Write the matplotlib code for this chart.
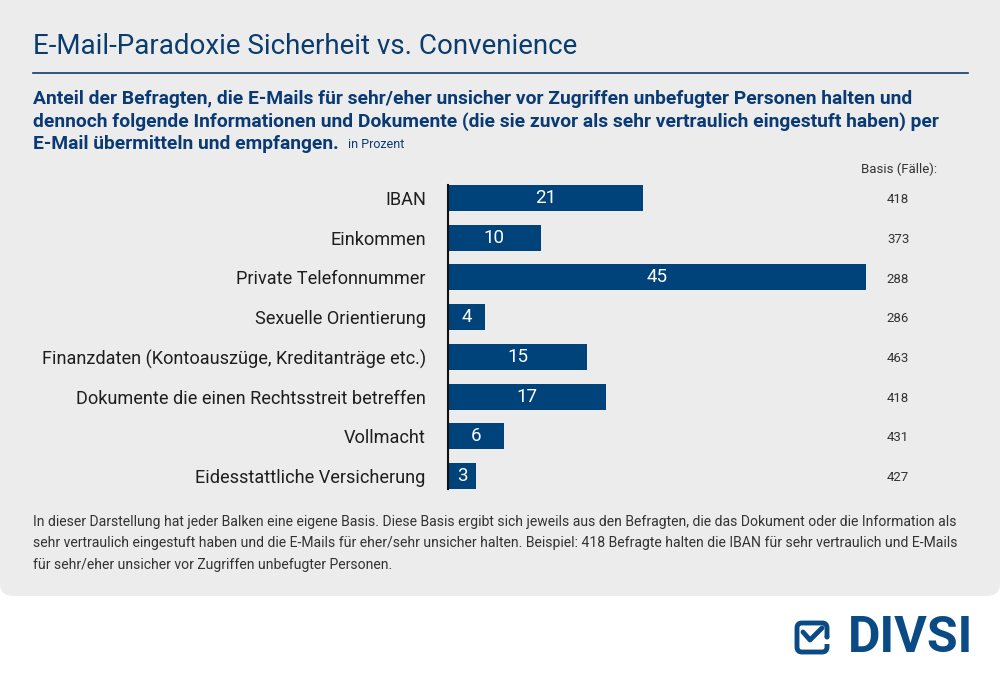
import matplotlib
matplotlib.use("Agg")
import matplotlib.pyplot as plt
import matplotlib.transforms as mtransforms
from matplotlib.patches import FancyBboxPatch, Circle
from matplotlib.lines import Line2D

# data
categories = ["IBAN", "Einkommen", "Private Telefonnummer", "Sexuelle Orientierung",
              "Finanzdaten (Kontoauszüge, Kreditanträge etc.)",
              "Dokumente die einen Rechtsstreit betreffen", "Vollmacht",
              "Eidesstattliche Versicherung"]
values = [21, 10, 45, 4, 15, 17, 6, 3]
basis = [418, 373, 288, 286, 463, 418, 431, 427]

title = "E-Mail-Paradoxie Sicherheit vs. Convenience"
subtitle = ["Anteil der Befragten, die E-Mails für sehr/eher unsicher vor Zugriffen unbefugter Personen halten und",
            "dennoch folgende Informationen und Dokumente (die sie zuvor als sehr vertraulich eingestuft haben) per",
            "E-Mail übermitteln und empfangen."]
footnote = ["In dieser Darstellung hat jeder Balken eine eigene Basis. Diese Basis ergibt sich jeweils aus den Befragten, die das Dokument oder die Information als",
            "sehr vertraulich eingestuft haben und die E-Mails für eher/sehr unsicher halten. Beispiel: 418 Befragte halten die IBAN für sehr vertraulich und E-Mails",
            "für sehr/eher unsicher vor Zugriffen unbefugter Personen."]

blue = "#00427a"
dark = "#1e1e1e"
plt.rcParams['font.family'] = ['Roboto', 'DejaVu Sans']

W, H = 1000, 679
fig = plt.figure(figsize=(W / 100, H / 100), dpi=100)
fig.patch.set_facecolor("white")

def fx(px):
    return px / W

def fy(py):
    return 1 - py / H

# grey panel
panel = FancyBboxPatch((0.0, (H - 596) / 100), 10.0, 596 / 100 + 0.2,
                       boxstyle="round,pad=0,rounding_size=0.13",
                       transform=fig.dpi_scale_trans, facecolor="#ececec",
                       edgecolor="none", zorder=-5)
fig.patches.append(panel)

# title and rule
fig.text(fx(33), fy(47), title, fontsize=20, color="#0b3c6e", va="center", ha="left")
fig.add_artist(Line2D([fx(33), fx(968)], [fy(73), fy(73)], color="#0b3c6e", lw=1.2))

for i, line in enumerate(subtitle):
    fig.text(fx(33), fy(99 + i * 22.5), line, fontsize=13.85, fontweight="bold",
             color="#0a3a73", va="center", ha="left")
fig.text(fx(348), fy(145), "in Prozent", fontsize=9, color="#0a3a73", va="center", ha="left")

fig.text(fx(937), fy(169), "Basis (Fälle):", fontsize=9.5, color="#333333", va="center", ha="right")

# bars
ax = fig.add_axes([fx(448), fy(489), fx(464), fy(185) - fy(489)])
ax.set_facecolor("none")
pos = list(range(len(categories)))
ax.barh(pos, values, height=0.655, color=blue)
ax.set_xlim(0, 50)
ax.set_ylim(len(categories) - 1 + 0.33, -0.33)
for s in ["top", "right", "bottom"]:
    ax.spines[s].set_visible(False)
ax.spines["left"].set_color("#111111")
ax.spines["left"].set_linewidth(1.5)
ax.set_xticks([])
ax.set_yticks(pos)
ax.set_yticklabels(categories, fontsize=13.05, color=dark)
ax.tick_params(axis="y", length=0, pad=16)
basis_tr = mtransforms.blended_transform_factory(fig.transFigure, ax.transData)
for p, v, b in zip(pos, values, basis):
    ax.text(v / 2, p, str(v), ha="center", va="center", color="white", fontsize=13.5)
    ax.text(fx(898), p + 0.04, str(b), transform=basis_tr, ha="center", va="center",
            color="#333333", fontsize=9.5)

for i, line in enumerate(footnote):
    fig.text(fx(33), fy(522 + i * 21.5), line, fontsize=10.1, color="#333333", va="center", ha="left")

# logo
logo = "#0a4a85"
fig.text(fx(848), fy(638), "DIVSI", fontsize=36, fontweight="bold", color=logo,
         va="center", ha="left")
icon = FancyBboxPatch((7.97, (H - 652) / 100), 0.30, 0.29,
                      boxstyle="round,pad=0,rounding_size=0.05",
                      transform=fig.dpi_scale_trans, facecolor="none",
                      edgecolor=logo, lw=3.5, zorder=3)
fig.patches.append(icon)
# gap in icon outline on right side, with dot
fig.patches.append(FancyBboxPatch((8.24, (H - 644) / 100), 0.06, 0.07, boxstyle="square,pad=0",
                                  transform=fig.dpi_scale_trans, facecolor="white",
                                  edgecolor="none", zorder=4))
fig.patches.append(Circle((8.27, (H - 637) / 100), 0.025, transform=fig.dpi_scale_trans,
                          facecolor=logo, edgecolor="none", zorder=5))
fig.add_artist(Line2D([fx(803), fx(810), fx(822)], [fy(632), fy(640), fy(628)],
                      color=logo, lw=3.5, solid_capstyle="round", solid_joinstyle="round", zorder=5))

fig.savefig("out.png", dpi=100, facecolor="white")
